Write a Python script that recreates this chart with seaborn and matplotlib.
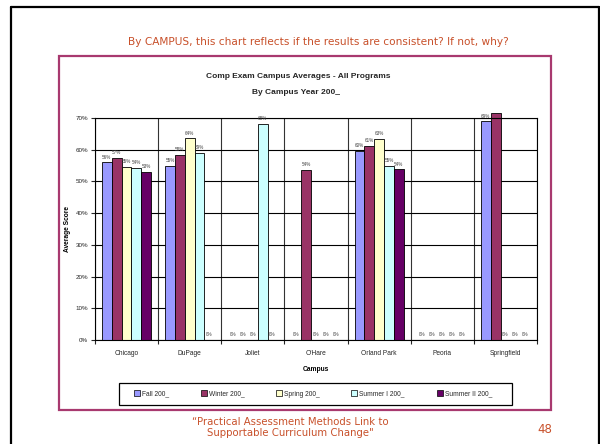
import matplotlib
matplotlib.use('Agg')
import matplotlib.pyplot as plt
import seaborn as sns
import pandas as pd
import numpy as np
from matplotlib.patches import Rectangle
from matplotlib.lines import Line2D

# Chart data (average score, %)
campuses = ['Chicago', 'DuPage', 'Joliet', "O'Hare", 'Orland Park', 'Peoria', 'Springfield']
terms = ['Fall 200_', 'Winter 200_', 'Spring 200_', 'Summer I 200_', 'Summer II 200_']
fall = [56.0, 55.0, 0, 0, 59.6, 0, 68.9]
winter = [57.4, 58.3, 0, 53.6, 61.1, 0, 71.5]
spring = [54.6, 63.6, 0, 0, 63.4, 0, 0]
summer1 = [54.3, 58.9, 68.1, 0, 54.9, 0, 0]
summer2 = [53.0, 0, 0, 0, 53.8, 0, 0]
term_colors = ['#9999FF', '#993366', '#FFFFCC', '#CCFFFF', '#660066']

series = [fall, winter, spring, summer1, summer2]
rows = []
for term, vals in zip(terms, series):
    for campus, v in zip(campuses, vals):
        rows.append({'Campus': campus, 'Term': term, 'Score': v})
df = pd.DataFrame(rows)

sns.set_style('white')
plt.rcParams['font.family'] = ['Liberation Sans', 'DejaVu Sans']

W, H = 600, 444
fig = plt.figure(figsize=(6, 4.44), dpi=100)

# slide frames
fig.add_artist(Line2D([11 / W, 11 / W], [0, 1 - 7 / H], color='black', lw=1.6))
fig.add_artist(Line2D([11 / W, 599 / W], [1 - 7 / H, 1 - 7 / H], color='black', lw=1.6))
fig.add_artist(Line2D([599 / W, 599 / W], [0, 1 - 7 / H], color='black', lw=1.6))
fig.add_artist(Rectangle((59 / W, 1 - 410 / H), (551 - 59) / W, (410 - 56) / H,
                         transform=fig.transFigure, fill=False, edgecolor='#A8396F', lw=1.6))

orange = '#C8502A'
fig.text(318 / W, 1 - 42 / H, 'By CAMPUS, this chart reflects if the results are consistent? If not, why?',
         ha='center', va='center', fontsize=7.55, color=orange, family='DejaVu Sans')
fig.text(290 / W, 1 - 422 / H, '\u201cPractical Assessment Methods Link to',
         ha='center', va='center', fontsize=7.25, color=orange, family='DejaVu Sans')
fig.text(290 / W, 1 - 433 / H, 'Supportable Curriculum Change"',
         ha='center', va='center', fontsize=7.25, color=orange, family='DejaVu Sans')
fig.text(545 / W, 1 - 429 / H, '48', ha='center', va='center', fontsize=8.5, color=orange,
         family='DejaVu Sans')

fig.text(298 / W, 1 - 77 / H, 'Comp Exam Campus Averages - All Programs',
         ha='center', va='center', fontsize=6, fontweight='bold')
fig.text(296 / W, 1 - 93 / H, 'By Campus Year 200_',
         ha='center', va='center', fontsize=6, fontweight='bold')

ax = fig.add_axes([95 / W, 1 - 340 / H, (537 - 95) / W, (340 - 118) / H])
sns.barplot(data=df, x='Campus', y='Score', hue='Term', palette=term_colors, saturation=1,
            edgecolor='black', linewidth=0.6, width=0.78, errorbar=None, ax=ax)

for cont in ax.containers:
    for bar in cont:
        bar.set_clip_on(False)
    texts = ax.bar_label(cont, fmt='%.0f%%', padding=2, fontsize=3.3, color='#444444')
    for t in texts:
        t.set_clip_on(True)

ax.set_ylim(0, 70)
ax.set_xlim(-0.5, 6.5)
ax.set_yticks(range(0, 71, 10))
ax.set_yticklabels([f'{v}%' for v in range(0, 71, 10)], fontsize=4.5)
ax.set_xticks(range(len(campuses)))
ax.set_xticklabels(campuses, fontsize=4.8)
ax.set_xticks(np.arange(-0.5, 7, 1), minor=True)
ax.tick_params(axis='x', which='major', length=0, pad=7)
ax.tick_params(axis='x', which='minor', length=3, width=0.8, direction='out', bottom=True)
ax.tick_params(axis='y', length=3, width=0.8, direction='out', left=True, pad=2)
ax.grid(axis='y', which='major', color='black', lw=0.8)
ax.grid(axis='x', which='minor', color='#333333', lw=0.8)
ax.set_axisbelow(True)
for s in ax.spines.values():
    s.set_color('black')
    s.set_linewidth(0.8)

ax.set_xlabel('Campus', fontsize=4.8, fontweight='bold', labelpad=7, color='black')
ax.set_ylabel('Average Score', fontsize=4.8, fontweight='bold', labelpad=3, color='black')

handles, labels = ax.get_legend_handles_labels()
ax.get_legend().remove()
fig.add_artist(Rectangle((119 / W, 1 - 405 / H), (512 - 119) / W, (405 - 383) / H,
                         transform=fig.transFigure, fill=False, edgecolor='black', lw=0.9))
leg = fig.legend(handles, labels, loc='center', bbox_to_anchor=(313 / W, 1 - 394 / H),
                 ncol=5, fontsize=4.8, frameon=False, handlelength=0.9,
                 handleheight=0.9, handletextpad=0.3, columnspacing=4.75)
for h in leg.legend_handles:
    h.set_edgecolor('black')
    h.set_linewidth(0.5)

fig.savefig('out.png', dpi=100)
